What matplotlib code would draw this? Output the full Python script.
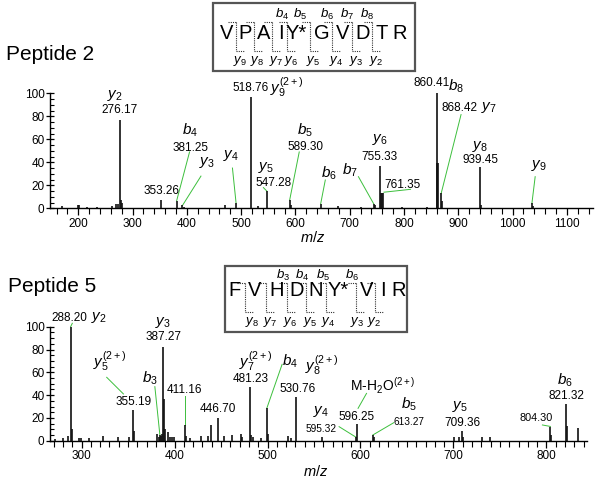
import matplotlib
matplotlib.use('Agg')
import matplotlib.pyplot as plt
from matplotlib.ticker import MultipleLocator
from matplotlib.patches import Rectangle
from matplotlib.lines import Line2D

plt.rcParams['font.family'] = ['Liberation Sans', 'DejaVu Sans']
plt.rcParams['mathtext.fontset'] = 'custom'
plt.rcParams['mathtext.rm'] = 'Liberation Sans'
plt.rcParams['mathtext.it'] = 'Liberation Sans:italic'
plt.rcParams['mathtext.bf'] = 'Liberation Sans:bold'

# ---------------- data ----------------
p2_title = 'Peptide 2'
p2_seq = ['V', 'P', 'A', 'I', 'Y*', 'G', 'V', 'D', 'T', 'R']
p2_mz = [171, 199, 201, 217, 235, 262, 270, 274, 276.17, 278, 281, 353.26, 381.25, 392, 394,
         470, 490.6, 518.76, 531, 547.28, 589.30, 591, 646.5, 678, 720, 744, 746, 755.33, 757,
         758.5, 761.35, 797, 842, 860.41, 861.4, 862.4, 868.42, 870, 939.45, 941, 1035.5, 1037]
p2_int = [2, 2.5, 2.5, 1, 1.5, 2, 3.5, 4, 77, 7.5, 5, 7.2, 6.6, 2.5, 1.5,
          3, 4.9, 97, 2, 15, 7, 3, 4, 2, 1.5, 4, 3, 37, 13,
          13, 13, 1.5, 1.5, 100, 39, 39, 13, 6, 36, 3, 4.3, 2]
p2_xticks = [200, 300, 400, 500, 600, 700, 800, 900, 1000, 1100]

p5_title = 'Peptide 5'
p5_seq = ['F', 'V', 'H', 'D', 'N', 'Y*', 'V', 'I', 'R']
p5_mz = [271.3, 280.2, 285.6, 288.20, 289.2, 297, 299, 308, 323, 339.4, 350.9, 355.19, 356.2,
         380.6, 383, 384.2, 385.3, 386.2, 387.27, 388.3, 389.3, 392.5, 395, 397, 399, 411.16,
         412.2, 416.5, 428.3, 436, 438.7, 446.70, 453, 462, 472, 473, 481.23, 482.2, 484.5,
         493.5, 499.2, 500.2, 522, 525, 530.76, 559, 595.32, 596.25, 613.27, 614.3, 700.3, 706,
         709.36, 710.4, 731, 739.8, 804.30, 805.3, 821.32, 822.3, 834.4]
p5_int = [1.5, 2.5, 4, 100, 10.5, 2.5, 2.5, 2.5, 4.5, 3.5, 3, 26.5, 8.5,
          6, 3.5, 5, 4, 6, 82.5, 37, 10, 8, 3, 3, 3, 13.8,
          4, 2, 4, 4, 13.5, 19.6, 4.5, 5, 5.5, 3, 46.8, 5, 3,
          2.5, 28.4, 5.5, 4, 2.5, 38, 3.5, 3, 14.6, 5, 3, 3, 3,
          8.5, 3, 3.5, 3.5, 11.7, 5, 32, 13, 11]
p5_xticks = [300, 400, 500, 600, 700, 800]

# ---------------- style ----------------
GREEN = '#3cbf3c'
W, H = 600, 479
fig = plt.figure(figsize=(6.0, 4.79), dpi=100)


def fpx(x, y):
    return (x / W, 1 - y / H)


def setup_axes(rect, xlim, xticks, minor):
    ax = fig.add_axes(rect)
    ax.set_xlim(*xlim)
    ax.set_ylim(0, 100)
    for s in ('top', 'right'):
        ax.spines[s].set_visible(False)
    ax.spines['left'].set_bounds(0, 100)
    ax.spines['left'].set_linewidth(1.0)
    ax.spines['bottom'].set_linewidth(1.0)
    ax.set_xticks(xticks)
    ax.set_yticks([0, 20, 40, 60, 80, 100])
    ax.xaxis.set_minor_locator(MultipleLocator(minor))
    ax.yaxis.set_minor_locator(MultipleLocator(5))
    ax.tick_params(axis='x', which='major', direction='out', length=5, width=0.9,
                   labelsize=8.5, pad=2)
    ax.tick_params(axis='x', which='minor', direction='out', length=4, width=0.8)
    ax.tick_params(axis='y', which='major', direction='inout', length=6, width=0.9,
                   labelsize=8.5, pad=1)
    ax.tick_params(axis='y', which='minor', direction='in', length=3, width=0.8)
    ax.set_xlabel(r'$\mathit{m/z}$', fontsize=10.5, labelpad=1)
    return ax


def draw_peaks(ax, mz, inten):
    ax.vlines(mz, 0, inten, colors='#111111', linewidth=1.2, clip_on=False, zorder=3)


def t(ax, s, x, y, size=8.5, ha='center'):
    ax.text(x, y, s, fontsize=size, ha=ha, va='center', clip_on=False, zorder=4)


def lead(ax, x1, y1, x2, y2):
    ax.plot([x1, x2], [y1, y2], color=GREEN, lw=0.7, clip_on=False, zorder=2)


def seq_box(letters, letter_x, y_letters, box, gaps, ylab, blab, y_top, y_bot, y_ylab, y_blab):
    x0, y0, x1, y1 = box
    r = Rectangle(fpx(x0, y1), (x1 - x0) / W, (y1 - y0) / H, transform=fig.transFigure,
                  fill=False, edgecolor='#555555', linewidth=1.6)
    fig.add_artist(r)
    for L, x in zip(letters, letter_x):
        fig.text(*fpx(x, y_letters), L, fontsize=14.5, ha='center', va='center')
    for g in gaps:
        kw = dict(transform=fig.transFigure, color='#333333', lw=0.8, linestyle=(0, (1, 1)))
        fig.add_artist(Line2D([fpx(g - 8, 0)[0], fpx(g, 0)[0]], [fpx(0, y_top)[1]] * 2, **kw))
        fig.add_artist(Line2D([fpx(g, 0)[0]] * 2, [fpx(0, y_top)[1], fpx(0, y_bot)[1]], **kw))
        fig.add_artist(Line2D([fpx(g, 0)[0], fpx(g + 8, 0)[0]], [fpx(0, y_bot)[1]] * 2, **kw))
    for s, x in ylab:
        fig.text(*fpx(x, y_ylab), r'$\mathit{y_{%s}}$' % s, fontsize=9.5, ha='center', va='center')
    for s, x in blab:
        fig.text(*fpx(x, y_blab), r'$\mathit{b_{%s}}$' % s, fontsize=9.5, ha='center', va='center')


# ---------------- Peptide 2 ----------------
ax1 = setup_axes([50 / W, 1 - 208.3 / H, (593 - 50) / W, 115 / H], (148, 1148), p2_xticks, 20)
draw_peaks(ax1, p2_mz, p2_int)
ax1.xaxis.set_label_coords(0.483, -0.19)

t(ax1, r'$\mathit{y_2}$', 268, 98.5, 11)
t(ax1, '276.17', 276, 85.5)
t(ax1, r'$\mathit{b_4}$', 406, 68, 11)
t(ax1, '381.25', 406, 52.7)
lead(ax1, 405, 49, 381.25, 6.6)
t(ax1, r'$\mathit{y_3}$', 437, 39.4, 11)
lead(ax1, 426, 28, 392, 2.5)
t(ax1, '353.26', 353.5, 15)
t(ax1, r'$\mathit{y_4}$', 481, 46.3, 11)
lead(ax1, 484, 35, 490.6, 4.9)
t(ax1, '518.76', 550, 104.3, ha='right')
t(ax1, r'$\mathit{y_9^{(2+)}}$', 553, 104.8, 11, ha='left')
t(ax1, r'$\mathit{y_5}$', 545, 35.7, 11)
t(ax1, '547.28', 559, 22.3)
lead(ax1, 541, 18, 547.28, 15)
t(ax1, r'$\mathit{b_5}$', 618, 68, 11)
t(ax1, '589.30', 618, 53.3)
lead(ax1, 607, 49, 589.30, 7)
t(ax1, r'$\mathit{b_6}$', 661, 30.4, 11)
lead(ax1, 655, 24.6, 646.5, 4)
t(ax1, r'$\mathit{b_7}$', 701, 33.3, 11)
lead(ax1, 716, 27.5, 744, 4)
t(ax1, r'$\mathit{y_6}$', 755, 59.4, 11)
t(ax1, '755.33', 755, 44.3)
t(ax1, '761.35', 797, 20.3)
lead(ax1, 763, 14, 812, 16.5)
t(ax1, '860.41', 884, 109.2, ha='right')
t(ax1, r'$\mathit{b_8}$', 896, 106.5, 11)
t(ax1, '868.42', 903, 87.5)
t(ax1, r'$\mathit{y_7}$', 956, 87.5, 11)
lead(ax1, 905, 81.5, 868.42, 13)
t(ax1, r'$\mathit{y_8}$', 940, 53.6, 11)
t(ax1, '939.45', 940, 42)
t(ax1, r'$\mathit{y_9}$', 1048, 36.8, 11)
lead(ax1, 1041.5, 27.5, 1035.5, 4.3)

fig.text(*fpx(6, 55), p2_title, fontsize=15, ha='left', va='center')
seq_box(p2_seq, [226.6, 245.3, 263.3, 280.5, 296, 321.5, 342.5, 362.8, 381.5, 400], 33.5,
        (213, 3.3, 414.5, 71), [236, 254, 272, 287, 310, 332, 352, 372],
        [('9', 240), ('8', 257), ('7', 276), ('6', 291), ('5', 313), ('4', 336), ('3', 356), ('2', 376)],
        [('4', 282), ('5', 300), ('6', 327), ('7', 347), ('8', 367)],
        21.7, 50.5, 61.5, 14)

# ---------------- Peptide 5 ----------------
ax2 = setup_axes([50 / W, 1 - 440.7 / H, (587.3 - 50) / W, 114 / H], (266, 844), p5_xticks, 10)
draw_peaks(ax2, p5_mz, p5_int)
ax2.xaxis.set_label_coords(0.495, -0.20)

t(ax2, '288.20', 306, 107.4, ha='right')
t(ax2, r'$\mathit{y_2}$', 319, 107.8, 11)
lead(ax2, 288.2, 100, 290, 103)
t(ax2, r'$\mathit{y_3}$', 387.7, 103.5, 11)
t(ax2, '387.27', 387.7, 91.2)
t(ax2, r'$\mathit{y_5^{(2+)}}$', 330, 69.3, 11)
lead(ax2, 327, 55.6, 345, 41)
t(ax2, '355.19', 355.5, 34.2)
t(ax2, r'$\mathit{b_3}$', 373.4, 54.7, 11)
lead(ax2, 378.8, 47.4, 384.2, 5)
t(ax2, '411.16', 411.1, 44.5)
lead(ax2, 411.16, 39, 411.16, 13.8)
t(ax2, '446.70', 446.9, 27.5)
t(ax2, r'$\mathit{y_7^{(2+)}}$', 487, 69.3, 11)
t(ax2, '481.23', 481.7, 53.9)
t(ax2, r'$\mathit{b_4}$', 524, 69.3, 11)
lead(ax2, 515.7, 67, 499.2, 28.4)
t(ax2, r'$\mathit{y_8^{(2+)}}$', 558, 66.4, 11)
t(ax2, '530.76', 532.3, 45.1)
t(ax2, r'M-H$_2$O$^{(2+)}$', 623.4, 48.5, 10)
lead(ax2, 606.5, 41.5, 597.4, 28.4)
t(ax2, '596.25', 596.3, 21)
t(ax2, r'$\mathit{y_4}$', 557, 25.4, 11)
t(ax2, '595.32', 558, 10, 7.3)
lead(ax2, 577, 12.3, 595.32, 3)
t(ax2, r'$\mathit{b_5}$', 652, 31.5, 11)
t(ax2, '613.27', 652.3, 16.7, 7.3)
lead(ax2, 635.8, 15.8, 613.27, 5)
t(ax2, r'$\mathit{y_5}$', 707, 30.4, 11)
t(ax2, '709.36', 709.2, 15.8)
t(ax2, '804.30', 789.2, 19.6, 7.8)
lead(ax2, 795.7, 13.8, 804.3, 12.5)
t(ax2, r'$\mathit{b_6}$', 819.7, 53.2, 11)
t(ax2, '821.32', 821.5, 39.2)

fig.text(*fpx(8, 287), p5_title, fontsize=15, ha='left', va='center')
seq_box(p5_seq, [235, 255, 276.7, 296.7, 316, 338, 366.7, 382.7, 398.3], 290,
        (225, 266, 406.8, 331.7), [245, 266, 287, 306, 326, 356, 375],
        [('8', 251.7), ('7', 270), ('6', 290), ('5', 310), ('4', 328.3), ('3', 357.3), ('2', 374)],
        [('3', 283.3), ('4', 301.7), ('5', 322.7), ('6', 351.7)],
        283.3, 311.7, 321.7, 275)

fig.savefig('out.png', dpi=100)
